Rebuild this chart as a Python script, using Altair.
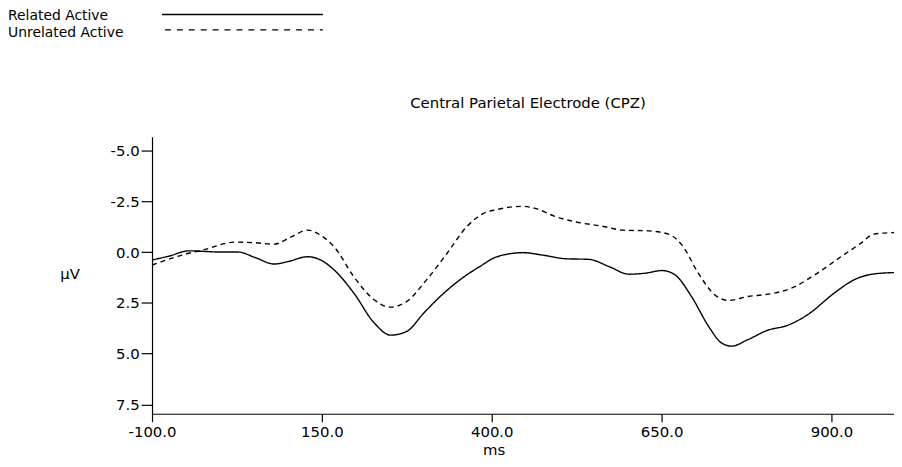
import altair as alt
import pandas as pd

series_names = ["Related Active", "Unrelated Active"]

related_ms = [-100, -75, -46, -22, 0, 27, 51, 80, 100, 129, 148, 168, 197, 227, 251, 275,
              300, 324, 353, 382, 407, 446, 475, 509, 543, 573, 602, 626, 651, 670, 694,
              719, 738, 753, 777, 806, 836, 865, 904, 933, 962, 992]
related_uv = [0.39, 0.2, -0.06, -0.03, 0.0, 0.0, 0.26, 0.59, 0.47, 0.23, 0.39, 0.88, 2.02,
              3.49, 4.09, 3.90, 3.0, 2.19, 1.37, 0.72, 0.24, 0.03, 0.15, 0.33, 0.36, 0.72,
              1.09, 1.04, 0.91, 1.13, 2.19, 3.65, 4.47, 4.63, 4.31, 3.85, 3.6, 3.08, 2.02,
              1.37, 1.08, 1.01]

unrelated_ms = [-100, -56, -22, 22, 51, 80, 105, 129, 148, 168, 197, 227, 251, 275, 304,
                334, 363, 387, 407, 446, 465, 495, 524, 563, 592, 631, 660, 680, 704, 728,
                748, 777, 816, 841, 875, 914, 943, 962, 992]
unrelated_uv = [0.64, 0.15, -0.13, -0.49, -0.46, -0.39, -0.75, -1.08, -0.83, -0.26, 1.21,
                2.35, 2.71, 2.43, 1.37, 0.07, -1.24, -1.89, -2.09, -2.25, -2.14, -1.73,
                -1.48, -1.27, -1.08, -1.04, -0.88, -0.34, 1.04, 2.10, 2.38, 2.19, 2.02,
                1.78, 1.13, 0.23, -0.43, -0.88, -0.96]

x_ticks = [-100, 150, 400, 650, 900]
y_ticks = [-5.0, -2.5, 0.0, 2.5, 5.0, 7.5]
chart_title = "Central Parietal Electrode (CPZ)"
x_title = "ms"
y_title = "μV"

FONT = "DejaVu Sans"
W, H = 747, 279

df = pd.concat([
    pd.DataFrame({"ms": related_ms, "uv": related_uv, "series": series_names[0]}),
    pd.DataFrame({"ms": unrelated_ms, "uv": unrelated_uv, "series": series_names[1]}),
])

label_expr = "(datum.value < 0 ? '-' : '') + format(abs(datum.value), '.1f')"

x_enc = alt.X(
    "ms:Q",
    scale=alt.Scale(domain=[-100, 992], nice=False, zero=False),
    axis=alt.Axis(values=x_ticks, labelExpr=label_expr, title=x_title, grid=False,
                  tickSize=8, labelPadding=3, labelFlush=False, titleX=344, titleY=41,
                  titleBaseline="alphabetic", titleAlign="center"),
)
y_enc = alt.Y(
    "uv:Q",
    scale=alt.Scale(domain=[-5.68, 7.96], reverse=True, nice=False, zero=False),
    axis=alt.Axis(values=y_ticks, labelExpr=label_expr, title=y_title, grid=False,
                  tickSize=11, labelPadding=2, labelFlush=False, titleAngle=0,
                  titleX=-83, titleY=143, titleBaseline="alphabetic", titleAlign="center"),
)

lines = alt.Chart(df).mark_line(
    color="black", strokeWidth=1.4, interpolate="monotone", clip=True
).encode(
    x=x_enc,
    y=y_enc,
    strokeDash=alt.StrokeDash("series:N",
                              scale=alt.Scale(domain=series_names, range=[[1, 0], [5, 4]]),
                              legend=None),
    detail="series:N",
)

layers = [lines]

# legend (top-left, label then line sample)
legend_dash = [[1, 0], [6, 6]]
legend_text_y = [-117, -100.5]
legend_line_y = [-123, -107.5]
legend_line_x0 = [10, 13]
for i, name in enumerate(series_names):
    src = alt.Chart(pd.DataFrame({"label": [name]}))
    layers.append(
        src.mark_text(align="left", baseline="alphabetic", font=FONT, fontSize=14,
                      color="black").encode(
            text="label:N", x=alt.value(-145), y=alt.value(legend_text_y[i]))
    )
    layers.append(
        src.mark_rule(color="black", strokeWidth=1.4, strokeDash=legend_dash[i]).encode(
            x=alt.value(legend_line_x0[i]), x2=alt.value(172), y=alt.value(legend_line_y[i]))
    )

# chart title centred over the plot area
layers.append(
    alt.Chart(pd.DataFrame({"t": [chart_title]})).mark_text(
        align="center", baseline="alphabetic", font=FONT, fontSize=15, color="black"
    ).encode(text="t:N", x=alt.value(W / 2 + 5), y=alt.value(-29))
)

chart = alt.layer(*layers).properties(
    width=W, height=H,
    autosize=alt.AutoSizeParams(type="none"),
    padding={"left": 145, "top": 128, "right": 0, "bottom": 44},
).configure_view(stroke=None).configure_axis(
    domainColor="black", tickColor="black", domainWidth=1.2, tickWidth=1.2,
    labelFont=FONT, labelFontSize=15, labelColor="black",
    titleFont=FONT, titleFontSize=15, titleColor="black", titleFontWeight="normal",
)

chart.save("out.html", embed_options={"renderer": "svg", "actions": False})
